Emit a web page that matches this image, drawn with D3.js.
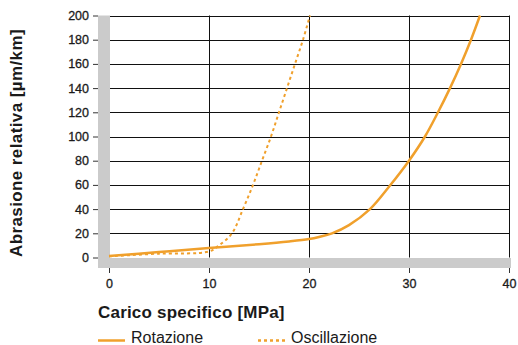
<!DOCTYPE html>
<html>
<head>
<meta charset="utf-8">
<script src="https://cdn.jsdelivr.net/npm/d3@7"></script>
<style>
  body { margin: 0; background: #fff; }
  svg text { font-family: "Liberation Sans", Arial, Helvetica, sans-serif; fill: #1a1a1a; }
</style>
</head>
<body>
<div id="chart"></div>
<script>
let svgWidth = 518
let svgHeight = 345

// Rotazione (solid)
let rotX = [0, 5, 10, 15, 18, 20, 21, 22.3, 24, 26.1, 28.1, 30, 31.6, 32.9, 34.1, 35.2, 36.2, 37.1]
let rotY = [1.2, 4.5, 7.8, 11, 13.3, 15.3, 17, 20, 26.8, 40, 59.5, 80, 100, 120, 140, 160, 180, 200]

// Oscillazione (dotted)
let oscX = [0, 5, 10, 11, 12.3, 13.4, 14.4, 15.3, 16.2, 17.0, 17.8, 18.6, 19.4, 20.1]
let oscY = [1, 3.2, 5, 10, 20, 40, 60, 80, 100, 120, 140, 160, 180, 200]

let xTicks = [0, 10, 20, 30, 40]
let yTicks = [0, 20, 40, 60, 80, 100, 120, 140, 160, 180, 200]

let seriesNames = ["Rotazione", "Oscillazione"]
let orange = "#f0a02c"
let gray = "#cbcbcb"

let svg = d3.select("#chart")
  .append("svg")
  .attr("width", svgWidth)
  .attr("height", svgHeight)

let x = d3.scaleLinear().domain([0, 40]).range([109, 509])
let y = d3.scaleLinear().domain([0, 200]).range([257.5, 15.5])

// grid
svg.append("g")
  .selectAll("line")
  .data(yTicks.filter(d => d > 0))
  .enter()
  .append("line")
  .attr("x1", 110)
  .attr("x2", x(40) + 1)
  .attr("y1", d => Math.round(y(d)) + 0.5)
  .attr("y2", d => Math.round(y(d)) + 0.5)
  .attr("stroke", "#111")
  .attr("stroke-width", 1)

svg.append("g")
  .selectAll("line")
  .data(xTicks.filter(d => d > 0))
  .enter()
  .append("line")
  .attr("x1", d => x(d) + 0.5)
  .attr("x2", d => x(d) + 0.5)
  .attr("y1", y(200))
  .attr("y2", y(0))
  .attr("stroke", "#111")
  .attr("stroke-width", 1)

// gray frame bars
svg.append("rect")
  .attr("x", 98).attr("y", y(200))
  .attr("width", 12).attr("height", 268 - y(200))
  .attr("fill", gray)
svg.append("rect")
  .attr("x", 98).attr("y", 258)
  .attr("width", x(40) + 2 - 98).attr("height", 10)
  .attr("fill", gray)

// axes
let yAxis = svg.append("g")
  .attr("transform", "translate(98,0)")
  .call(d3.axisLeft(y).tickValues(yTicks).tickSize(5).tickPadding(4))
yAxis.select(".domain").remove()
yAxis.selectAll("line").attr("stroke", "#333")
yAxis.selectAll("text")
  .style("font-size", "12.5px")
  .attr("fill", "#1a1a1a")
  .attr("stroke", "#1a1a1a")
  .attr("stroke-width", 0.3)

let xAxis = svg.append("g")
  .attr("transform", "translate(0,268)")
  .call(d3.axisBottom(x).tickValues(xTicks).tickSize(5).tickPadding(6))
xAxis.select(".domain").remove()
xAxis.selectAll("line").attr("stroke", "#333")
xAxis.selectAll("text")
  .style("font-size", "12.5px")
  .attr("fill", "#1a1a1a")
  .attr("stroke", "#1a1a1a")
  .attr("stroke-width", 0.3)

// curves
let line = d3.line()
  .x(d => x(d[0]))
  .y(d => y(d[1]))
  .curve(d3.curveCatmullRom.alpha(0.5))

svg.append("path")
  .datum(oscX.map((v, i) => [v, oscY[i]]))
  .attr("d", line)
  .attr("fill", "none")
  .attr("stroke", orange)
  .attr("stroke-width", 2)
  .attr("stroke-dasharray", "3,3")

svg.append("path")
  .datum(rotX.map((v, i) => [v, rotY[i]]))
  .attr("d", line)
  .attr("fill", "none")
  .attr("stroke", orange)
  .attr("stroke-width", 2.5)

// axis titles
svg.append("text")
  .attr("transform", "translate(22,143) rotate(-90)")
  .attr("text-anchor", "middle")
  .style("font-size", "17px")
  .style("font-weight", "bold")
  .style("letter-spacing", "0.4px")
  .text("Abrasione relativa [µm/km]")

svg.append("text")
  .attr("x", 98)
  .attr("y", 318)
  .style("font-size", "17px")
  .style("font-weight", "bold")
  .style("letter-spacing", "0.2px")
  .text("Carico specifico [MPa]")

// legend
let legendX = [98, 258]
seriesNames.forEach(function(name, i) {
  svg.append("line")
    .attr("x1", legendX[i]).attr("x2", legendX[i] + 27)
    .attr("y1", 340.5).attr("y2", 340.5)
    .attr("stroke", orange)
    .attr("stroke-width", 2.5)
    .attr("stroke-dasharray", i == 1 ? "3,3" : null)
  svg.append("text")
    .attr("x", legendX[i] + 33)
    .attr("y", 343)
    .style("font-size", "16px")
    .text(name)
})
</script>
</body>
</html>
